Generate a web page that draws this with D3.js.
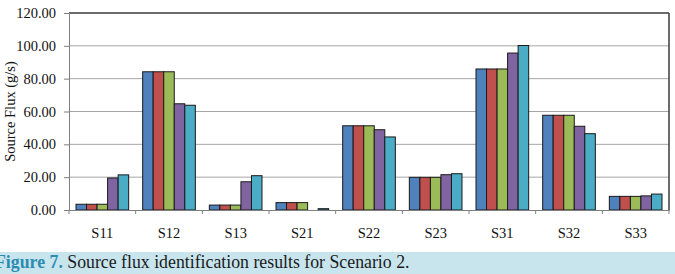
<!DOCTYPE html>
<html>
<head>
<meta charset="utf-8">
<script src="https://cdn.jsdelivr.net/npm/d3@7"></script>
<style>
  body { margin: 0; background: #fff; }
  svg { display: block; }
</style>
</head>
<body>
<div id="viz"></div>
<script>
const categories = ["S11", "S12", "S13", "S21", "S22", "S23", "S31", "S32", "S33"];
const seriesNames = ["a", "b", "c", "d", "e"];
const seriesA = [3.5, 84.2, 3.0, 4.5, 51.3, 19.9, 85.9, 57.7, 8.3];
const seriesB = [3.5, 84.2, 3.0, 4.5, 51.3, 19.9, 85.9, 57.7, 8.3];
const seriesC = [3.5, 84.2, 3.0, 4.5, 51.3, 19.9, 85.9, 57.7, 8.3];
const seriesD = [19.5, 64.7, 17.2, 0.0, 48.9, 21.5, 95.6, 51.0, 8.6];
const seriesE = [21.4, 63.8, 20.9, 0.8, 44.5, 22.1, 100.2, 46.5, 9.7];
const yTicks = [0, 20, 40, 60, 80, 100, 120];
const colors = ["#4f81bd", "#c0504d", "#9bbb59", "#8064a2", "#4bacc6"];

const allSeries = [seriesA, seriesB, seriesC, seriesD, seriesE];

const width = 675;
const height = 274;
const margin = { left: 69, right: 6, top: 13, bottom: 64 };
const serif = '"Liberation Serif", "Times New Roman", serif';

const svg = d3.select('#viz').append('svg')
    .attr('width', width)
    .attr('height', height);

const x = d3.scaleBand()
    .domain(categories)
    .range([margin.left, width - margin.right])
    .paddingInner(0.21)
    .paddingOuter(0.105);

const xOuter = d3.scaleBand()
    .domain(categories)
    .range([margin.left, width - margin.right]);

const xInner = d3.scaleBand()
    .domain(seriesNames)
    .range([0, x.bandwidth()]);

const y = d3.scaleLinear()
    .domain([0, 120])
    .range([height - margin.bottom, margin.top]);

// gridlines
svg.append('g')
    .selectAll('line')
    .data(yTicks.filter(t => t > 0 && t < 120))
    .enter()
    .append('line')
    .attr('x1', margin.left)
    .attr('x2', width - margin.right)
    .attr('y1', d => y(d))
    .attr('y2', d => y(d))
    .attr('stroke', '#a6a6a6')
    .attr('stroke-width', 1);

// bars
const groups = svg.append('g')
    .selectAll('g')
    .data(categories)
    .enter()
    .append('g')
    .attr('transform', d => `translate(${x(d)},0)`);

groups.selectAll('rect')
    .data((c, i) => allSeries.map((s, j) => ({ key: seriesNames[j], value: s[i], color: colors[j] })))
    .enter()
    .filter(d => d.value > 0)
    .append('rect')
    .attr('x', d => xInner(d.key))
    .attr('y', d => y(d.value))
    .attr('width', xInner.bandwidth())
    .attr('height', d => y(0) - y(d.value))
    .attr('fill', d => d.color)
    .attr('stroke', '#1a1a1a')
    .attr('stroke-width', 1);

// plot frame: top and right
svg.append('line')
    .attr('x1', margin.left).attr('x2', width - margin.right)
    .attr('y1', margin.top).attr('y2', margin.top)
    .attr('stroke', '#3a3a3a').attr('stroke-width', 1.5);
svg.append('line')
    .attr('x1', width - margin.right).attr('x2', width - margin.right)
    .attr('y1', margin.top).attr('y2', y(0))
    .attr('stroke', '#3a3a3a').attr('stroke-width', 1.5);

// y axis
const yAxis = svg.append('g')
    .attr('transform', `translate(${margin.left},0)`)
    .call(d3.axisLeft(y).tickValues(yTicks).tickFormat(d3.format('.2f')).tickSize(5).tickPadding(8));
yAxis.select('.domain').attr('stroke', '#7f7f7f');
yAxis.selectAll('.tick line').attr('stroke', '#7f7f7f');
yAxis.selectAll('text')
    .attr('font-family', serif)
    .attr('font-size', 14.5)
    .attr('fill', '#111');

// x axis
const xAxis = svg.append('g')
    .attr('transform', `translate(0,${y(0)})`)
    .call(d3.axisBottom(xOuter).tickSize(0).tickPadding(17.5));
xAxis.select('.domain').attr('stroke', '#7f7f7f');
xAxis.selectAll('text')
    .attr('font-family', serif)
    .attr('font-size', 14.5)
    .attr('fill', '#111');

svg.append('g')
    .selectAll('line')
    .data(categories.concat(['end']))
    .enter()
    .append('line')
    .attr('x1', (d, i) => margin.left + i * xOuter.step())
    .attr('x2', (d, i) => margin.left + i * xOuter.step())
    .attr('y1', y(0))
    .attr('y2', y(0) + 4)
    .attr('stroke', '#7f7f7f');

// y title
svg.append('text')
    .attr('transform', `translate(15,${(margin.top + y(0)) / 2}) rotate(-90)`)
    .attr('text-anchor', 'middle')
    .attr('font-family', serif)
    .attr('font-size', 14.5)
    .attr('fill', '#111')
    .text('Source Flux (g/s)');

// caption
svg.append('rect')
    .attr('x', 0).attr('y', 252)
    .attr('width', width).attr('height', 22)
    .attr('fill', '#c8e5ee');

const caption = svg.append('text')
    .attr('x', -5)
    .attr('y', 268)
    .attr('font-family', serif)
    .attr('font-size', 17.8);
caption.append('tspan')
    .attr('font-weight', 'bold')
    .attr('fill', '#2b8cb0')
    .text('Figure 7.');
caption.append('tspan')
    .attr('fill', '#1a1a1a')
    .text(' Source flux identification results for Scenario 2.');
</script>
</body>
</html>
